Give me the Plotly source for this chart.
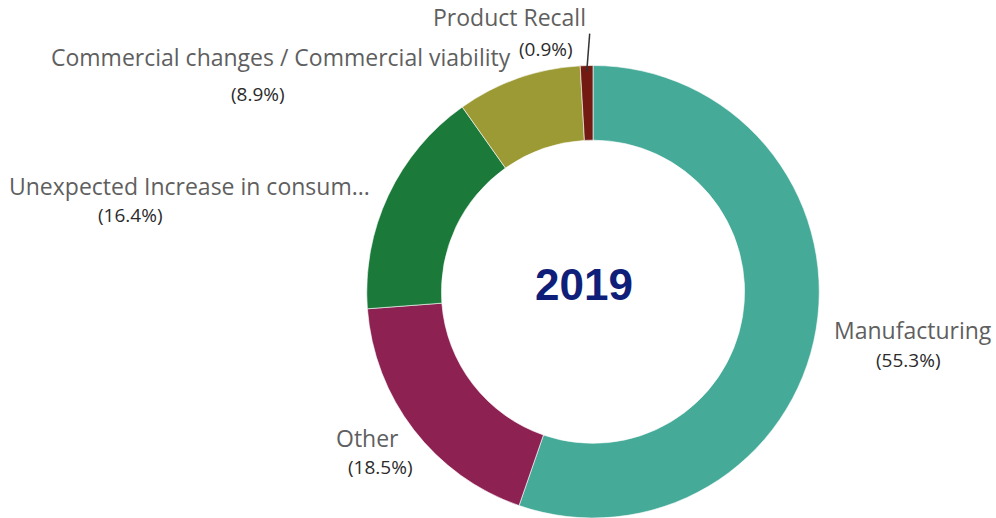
import math
import plotly.graph_objects as go

# ---- data ----
categories = ["Manufacturing", "Other", "Unexpected Increase in consum...",
              "Commercial changes / Commercial viability", "Product Recall"]
shares = [55.3, 18.5, 16.4, 8.9, 0.9]
center_title = "2019"

# ---- styles ----
colors = ["#45AA98", "#8C2152", "#1B7A3A", "#9C9A35", "#731A12"]
W, H = 996, 518
cx, cy, R = 593, 292, 226.5   # donut centre / radius in px
hole = 0.67

# label block positions (px, centre of name line / centre of pct line)
label_pos = {
    "Manufacturing": ((913, 330), (908, 360)),
    "Other": ((367, 438), (380, 467)),
    "Unexpected Increase in consum...": ((189, 186), (130, 215)),
    "Commercial changes / Commercial viability": ((281, 57), (258, 94)),
    "Product Recall": ((509, 17), (546, 49)),
}

def px(x):
    return x / W

def py(y):
    return 1 - y / H

fig = go.Figure(go.Pie(
    labels=categories, values=shares, hole=hole, sort=False,
    direction="clockwise", rotation=0, textinfo="none",
    marker=dict(colors=colors, line=dict(color="white", width=0.6)),
    domain=dict(x=[px(cx - R), px(cx + R)], y=[max(0, py(cy + R)), py(cy - R)]),
    showlegend=False, hoverinfo="label+percent",
))

ann = []
for cat, v in zip(categories, shares):
    (lx, ly), (qx, qy) = label_pos[cat]
    ann.append(dict(x=px(lx), y=py(ly), xref="paper", yref="paper", text=cat,
                    showarrow=False, xanchor="center", yanchor="middle",
                    font=dict(family="Open Sans", size=23, color="#5f5f5f")))
    ann.append(dict(x=px(qx), y=py(qy), xref="paper", yref="paper", text=f"({v}%)",
                    showarrow=False, xanchor="center", yanchor="middle",
                    font=dict(family="Open Sans", size=19, color="#2b2b2b")))

ann.append(dict(x=px(584), y=py(284), xref="paper", yref="paper", text=f"<b>{center_title}</b>",
                showarrow=False, xanchor="center", yanchor="middle",
                font=dict(family="Liberation Sans, Arial", size=44, color="#0F1E78")))

# leader line for the smallest slice, from its mid-angle
total = sum(shares)
cum = sum(shares[:-1])
mid = (cum + shares[-1] / 2) / total * 2 * math.pi
x0 = cx + (R - 6) * math.sin(mid)
y0 = cy - (R - 6) * math.cos(mid)
x1 = cx + (R + 32) * math.sin(mid) + 4
y1 = cy - (R + 32) * math.cos(mid)
shapes = [dict(type="line", xref="paper", yref="paper",
               x0=px(x0), y0=py(y0), x1=px(x1), y1=py(y1),
               line=dict(color="#333333", width=1.5))]

fig.update_layout(width=W, height=H, margin=dict(l=0, r=0, t=0, b=0),
                  paper_bgcolor="white", plot_bgcolor="white",
                  annotations=ann, shapes=shapes)
fig.write_html("out.html", config={"displayModeBar": False})

# remove default browser body margin so the figure sits at the page origin
with open("out.html", encoding="utf-8") as f:
    html = f.read()
html = html.replace("<head>", "<head><style>html,body{margin:0;padding:0;overflow:hidden}</style>", 1)
with open("out.html", "w", encoding="utf-8") as f:
    f.write(html)
